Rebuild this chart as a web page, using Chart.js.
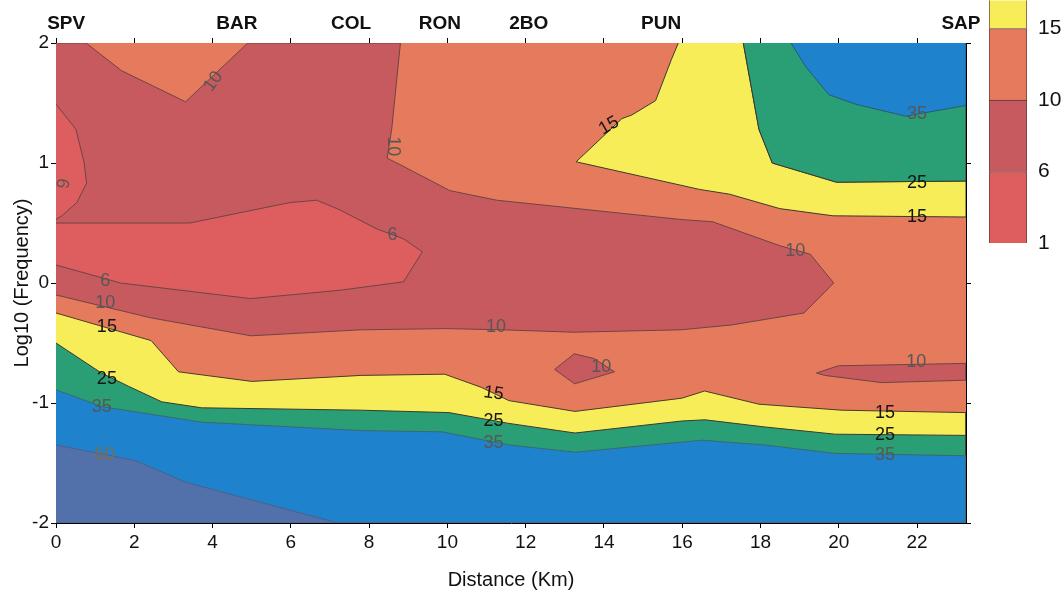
<!DOCTYPE html>
<html>
<head>
<meta charset="utf-8">
<script src="https://cdn.jsdelivr.net/npm/chart.js@4.4.1/dist/chart.umd.min.js"></script>
<style>
html, body { margin: 0; padding: 0; background: #fff; }
#wrap { position: relative; width: 1062px; height: 595px; overflow: hidden; }
#main { position: absolute; left: 0; top: 0; }
#bar { position: absolute; left: 985px; top: -15px; }
</style>
</head>
<body>
<div id="wrap">
  <canvas id="main" width="1062" height="595"></canvas>
  <canvas id="bar" width="77" height="280"></canvas>
</div>
<script>
// axes
const kmMax = 23.25;
const xTicks = [0, 2, 4, 6, 8, 10, 12, 14, 16, 18, 20, 22];
const yTicks = [-2, -1, 0, 1, 2];

// stations along the profile (km)
const stationNames = ['SPV', 'BAR', 'COL', 'RON', '2BO', 'PUN', 'SAP'];
const stationKm = [0.26, 4.62, 7.54, 9.81, 12.08, 15.46, 23.12];

// contour regions, [km, log10 f]
const zoneAll = [[0, 2], [23.25, 2], [23.25, -2], [0, -2]];
const zoneDarkRed = [[0, 2], [8.8, 2], [8.58, 1.29], [8.46, 1.04], [8.77, 0.99], [10.06, 0.77], [11.26, 0.69],
  [13.9, 0.6], [15.94, 0.53], [16.78, 0.51], [18.5, 0.31], [19.27, 0.24], [19.87, 0.0], [19.11, -0.25],
  [17.25, -0.35], [15.97, -0.39], [13.24, -0.41], [11.37, -0.39], [9.97, -0.38], [7.79, -0.39],
  [4.98, -0.44], [2.42, -0.29], [0, -0.1]];
const zoneRed = [[0, 0.5], [3.42, 0.5], [5.97, 0.67], [6.66, 0.69], [7.25, 0.61], [8.2, 0.45], [8.87, 0.37],
  [9.36, 0.26], [8.88, 0.01], [7.27, -0.06], [4.97, -0.13], [1.65, 0.0], [0, 0.15]];
const zoneRedLens = [[0, 1.49], [0.51, 1.28], [0.72, 1.0], [0.78, 0.83], [0.53, 0.67], [0.15, 0.56], [0, 0.53]];
const zoneNotch = [[0.77, 2], [1.67, 1.77], [3.31, 1.51], [4.9, 2]];
const zoneYellowTop = [[15.9, 2], [15.72, 1.86], [15.32, 1.52], [14.71, 1.4], [14.46, 1.37], [13.29, 1.01],
  [16.44, 0.78], [17.21, 0.74], [18.49, 0.62], [19.85, 0.56], [23.25, 0.55], [23.25, 0.85],
  [19.94, 0.84], [18.3, 1.0], [17.96, 1.28], [17.56, 2]];
const zoneGreenTop = [[17.56, 2], [17.96, 1.28], [18.3, 1.0], [19.94, 0.84], [23.25, 0.85], [23.25, 2]];
const zoneBlueTop = [[18.78, 2], [19.14, 1.81], [19.74, 1.57], [20.43, 1.49], [21.71, 1.39], [23.25, 1.48], [23.25, 2]];
const zoneDiamond = [[12.74, -0.72], [13.24, -0.59], [13.75, -0.63], [14.27, -0.74], [13.25, -0.84], [12.74, -0.72]];
const zoneLensRight = [[19.43, -0.75], [19.99, -0.69], [23.25, -0.67], [23.25, -0.81], [21.09, -0.83], [19.64, -0.77], [19.43, -0.75]];

// lower iso-lines, left to right
const iso15 = [[0, -0.25], [2.43, -0.48], [3.13, -0.74], [5.0, -0.82], [7.8, -0.77], [9.93, -0.76], [10.87, -0.87],
  [11.57, -0.98], [13.26, -1.07], [15.99, -0.96], [16.57, -0.9], [17.96, -1.01], [20.08, -1.06], [23.25, -1.08]];
const iso25 = [[0, -0.5], [1.16, -0.75], [1.85, -0.86], [2.7, -0.99], [3.72, -1.04], [7.8, -1.06], [10.04, -1.08],
  [11.57, -1.17], [13.26, -1.25], [15.99, -1.15], [16.58, -1.14], [18.12, -1.2], [19.91, -1.26], [23.25, -1.27]];
const iso35 = [[0, -0.89], [1.17, -1.03], [3.73, -1.16], [7.82, -1.23], [9.86, -1.24], [11.58, -1.35], [13.27, -1.41],
  [16.51, -1.31], [18.12, -1.35], [19.91, -1.42], [23.25, -1.44]];
const iso60 = [[0, -1.35], [2.03, -1.48], [3.31, -1.66], [7.2, -2]];

// contour labels
const tagText = ['10', '6', '10', '15', '6', '6', '10', '15', '25', '35', '60', '10',
  '10', '10', '10', '15', '25', '35', '15', '25', '35', '35', '25', '15'];
const tagKm = [4.02, 0.15, 8.6, 14.13, 8.6, 1.26, 1.26, 1.3, 1.3, 1.17, 1.23, 11.24,
  13.93, 18.89, 21.98, 11.18, 11.18, 11.18, 21.18, 21.18, 21.18, 22.0, 22.0, 22.0];
const tagLogF = [1.68, 0.83, 1.14, 1.31, 0.4, 0.02, -0.17, -0.37, -0.8, -1.03, -1.43, -0.37,
  -0.7, 0.27, -0.66, -0.92, -1.15, -1.33, -1.08, -1.27, -1.43, 1.41, 0.83, 0.55];

// colour scale
const barEdges = ['1', '6', '10', '15'];
const barSteps = [1, 1, 1, 1];

const SALMON = '#e67a5d', DARKRED = '#c75a5e', RED = '#de5e5f', YELLOW = '#f7ed58',
      GREEN = '#2a9e74', BLUE = '#1f82cc', NAVY = '#5270aa';
const LINE = '#6e4444', DARK = '#3a3a2e';

Chart.defaults.font.family = "'Liberation Sans', Arial, sans-serif";
Chart.defaults.color = '#111';

const bottomOf = (pts) => pts.concat([[kmMax, -2], [0, -2]]);

const zones = [
  { pts: zoneAll, fill: SALMON, line: 'rgba(0,0,0,0)' },
  { pts: zoneDarkRed, fill: DARKRED, line: LINE },
  { pts: zoneRed, fill: RED, line: LINE },
  { pts: zoneRedLens, fill: RED, line: LINE },
  { pts: zoneNotch, fill: SALMON, line: LINE },
  { pts: zoneYellowTop, fill: YELLOW, line: DARK },
  { pts: zoneGreenTop, fill: GREEN, line: DARK },
  { pts: zoneBlueTop, fill: BLUE, line: '#2a5a7a' },
  { pts: zoneDiamond, fill: DARKRED, line: LINE },
  { pts: zoneLensRight, fill: DARKRED, line: LINE },
  { pts: bottomOf(iso15), fill: YELLOW, line: '#4a3a2a' },
  { pts: bottomOf(iso25), fill: GREEN, line: DARK },
  { pts: bottomOf(iso35), fill: BLUE, line: '#3a6a70' },
  { pts: bottomOf(iso60), fill: NAVY, line: '#4a628a' }
];

const tagAngle = [-55, 100, 90, -30, 0, 0, 0, 0, 0, 0, 0, 0, 0, 0, 0, 8, 0, 0, 0, 0, 0, 0, 0, 0];

const tagPlugin = {
  id: 'tags',
  afterDatasetsDraw(chart) {
    const { ctx, scales: { x, y } } = chart;
    ctx.save();
    ctx.font = "18px 'Liberation Sans', Arial, sans-serif";
    ctx.textAlign = 'center';
    ctx.textBaseline = 'middle';
    tagText.forEach((t, i) => {
      const dark = t === '15' || t === '25';
      ctx.save();
      ctx.translate(x.getPixelForValue(tagKm[i]), y.getPixelForValue(tagLogF[i]));
      ctx.rotate(tagAngle[i] * Math.PI / 180);
      ctx.fillStyle = t === '60' ? '#7a6e52' : (dark ? '#151515' : '#575757');
      ctx.fillText(t, 0, 0);
      ctx.restore();
    });
    ctx.restore();
  },
  afterDraw(chart) {
    const { ctx, scales: { x }, chartArea } = chart;
    ctx.save();
    ctx.font = "bold 19px 'Liberation Sans', Arial, sans-serif";
    ctx.fillStyle = '#111';
    ctx.textAlign = 'center';
    ctx.textBaseline = 'middle';
    stationNames.forEach((n, i) => {
      ctx.fillText(n, x.getPixelForValue(stationKm[i]), chartArea.top - 19);
    });
    ctx.restore();
  }
};

const frameGrid = { drawOnChartArea: false, color: '#000', tickLength: 5 };
const frameBorder = { color: '#000', width: 1 };
const setTicks = (list) => (s) => { s.ticks = list.map(v => ({ value: v })); };

new Chart(document.getElementById('main'), {
  type: 'line',
  data: {
    datasets: zones.map((z, i) => ({
      data: z.pts.map(p => ({ x: p[0], y: p[1] })),
      backgroundColor: z.fill,
      borderColor: z.line,
      borderWidth: 1,
      fill: 'shape',
      pointRadius: 0,
      tension: 0,
      order: zones.length - i
    }))
  },
  options: {
    responsive: false,
    animation: false,
    layout: { padding: 0 },
    plugins: { legend: { display: false }, tooltip: { enabled: false } },
    scales: {
      x: {
        type: 'linear', min: 0, max: kmMax, position: 'bottom',
        afterBuildTicks: setTicks(xTicks),
        ticks: { font: { size: 19 }, padding: 3, maxRotation: 0 },
        grid: frameGrid, border: frameBorder,
        title: { display: true, text: 'Distance (Km)', font: { size: 20 }, padding: { top: 0, bottom: 3 } },
        afterFit: s => { s.height = 72; }
      },
      x2: {
        type: 'linear', min: 0, max: kmMax, position: 'top',
        afterBuildTicks: setTicks(xTicks),
        ticks: { display: false },
        grid: frameGrid, border: frameBorder,
        afterFit: s => { s.height = 43; }
      },
      y: {
        type: 'linear', min: -2, max: 2, position: 'left',
        afterBuildTicks: setTicks(yTicks),
        ticks: { font: { size: 19 }, padding: 2 },
        grid: frameGrid, border: frameBorder,
        title: { display: true, text: 'Log10 (Frequency)', font: { size: 20 }, padding: { top: 10, bottom: 0 } },
        afterFit: s => { s.width = 56; }
      },
      y2: {
        type: 'linear', min: -2, max: 2, position: 'right',
        afterBuildTicks: setTicks(yTicks),
        ticks: { display: false },
        grid: frameGrid, border: frameBorder,
        afterFit: s => { s.width = 96; }
      }
    }
  },
  plugins: [tagPlugin]
});

// colour bar
const barFills = [RED, DARKRED, SALMON, YELLOW];
new Chart(document.getElementById('bar'), {
  type: 'bar',
  data: {
    labels: [''],
    datasets: barSteps.map((v, i) => ({
      data: [v],
      backgroundColor: barFills[i],
      borderColor: '#5a3a3a',
      borderWidth: 1,
      categoryPercentage: 1,
      barPercentage: 1
    }))
  },
  options: {
    responsive: false,
    animation: false,
    layout: { padding: { left: 4, top: 0, right: 0, bottom: 22 } },
    plugins: { legend: { display: false }, tooltip: { enabled: false } },
    scales: {
      x: { stacked: true, display: false },
      y: {
        stacked: true, min: 0, max: 3.39, position: 'right',
        afterBuildTicks: setTicks([0, 1, 2, 3]),
        ticks: { font: { size: 21 }, padding: 3, callback: v => barEdges[v] },
        grid: { display: false },
        border: { display: false },
        afterFit: s => { s.width = 35; }
      }
    }
  }
});
</script>
</body>
</html>
